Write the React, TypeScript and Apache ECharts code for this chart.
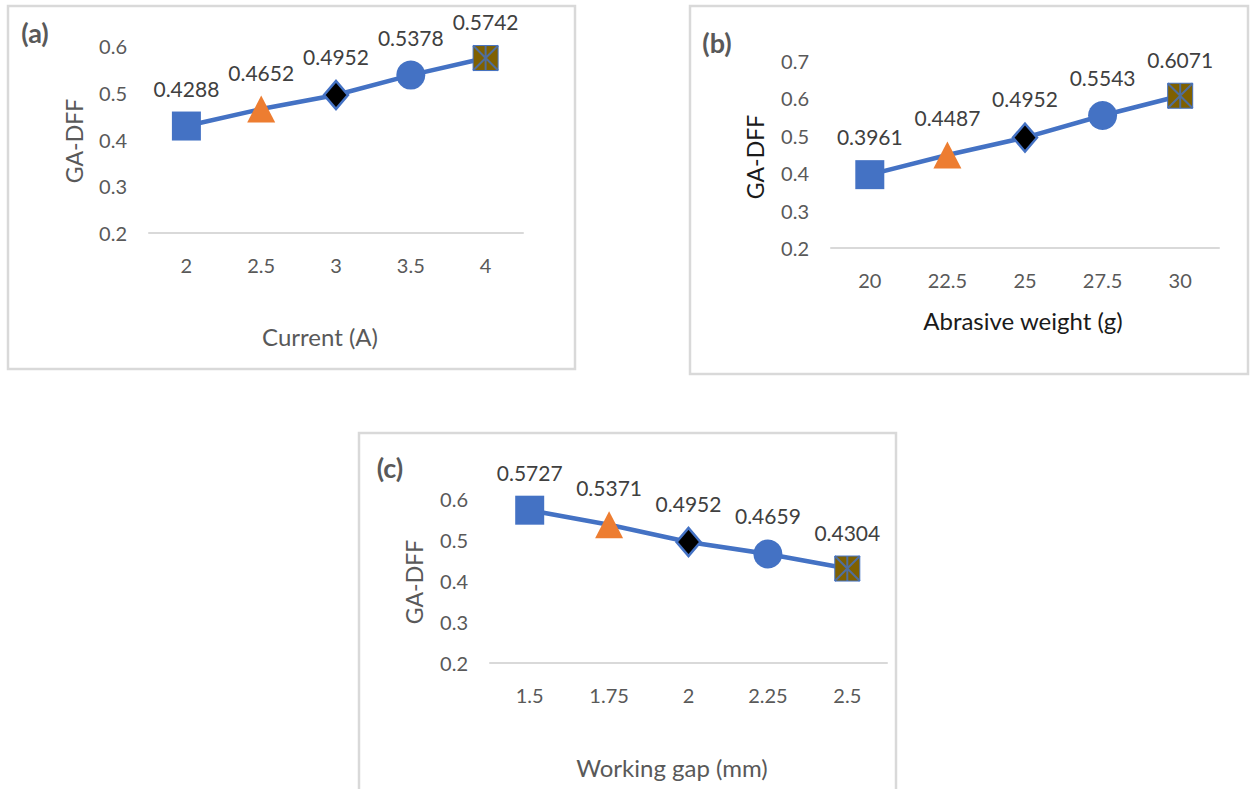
import React, { useEffect, useRef } from "react";
import * as echarts from "echarts";

// ---- data ----
const currentCategories = ["2", "2.5", "3", "3.5", "4"];
const currentGaDff = [0.4288, 0.4652, 0.4952, 0.5378, 0.5742];

const abrasiveCategories = ["20", "22.5", "25", "27.5", "30"];
const abrasiveGaDff = [0.3961, 0.4487, 0.4952, 0.5543, 0.6071];

const gapCategories = ["1.5", "1.75", "2", "2.25", "2.5"];
const gapGaDff = [0.5727, 0.5371, 0.4952, 0.4659, 0.4304];

const yRangeA = [0.2, 0.6];
const yRangeB = [0.2, 0.7];
const yRangeC = [0.2, 0.6];

const panelLetters = ["(a)", "(b)", "(c)"];
const xTitles = ["Current (A)", "Abrasive weight (g)", "Working gap (mm)"];
const yTitle = "GA-DFF";

// ---- styles ----
const FONT = 'Lato, "Noto Sans", "Liberation Sans", sans-serif';
const BLUE = "#4472C4";
const GRAY_TXT = "#595959";
const LABEL_TXT = "#404040";
const BORDER = "#d9d9d9";

const markerStyles: any[] = [
  { symbol: "rect", symbolSize: 29, itemStyle: { color: BLUE } },
  { symbol: "triangle", symbolSize: [28, 27], itemStyle: { color: "#ED7D31" } },
  {
    symbol: "diamond",
    symbolSize: [24, 28],
    itemStyle: { color: "#000000", borderColor: BLUE, borderWidth: 2.5 },
  },
  { symbol: "circle", symbolSize: 29, itemStyle: { color: BLUE } },
  {
    symbol: "rect",
    symbolSize: 25,
    itemStyle: { color: "#7F6000", borderColor: BLUE, borderWidth: 1 },
  },
];

const ASTERISK = "path://M0 0L10 10M10 0L0 10M5 0L5 10";

type PanelLayout = {
  box: [number, number, number, number];
  grid: { left: number; top: number; width: number; height: number };
  letter: [number, number];
  yTitle: [number, number];
  xTitle: [number, number];
  titleColor: string;
};

const layouts: PanelLayout[] = [
  {
    box: [8, 6, 575, 369],
    grid: { left: 149, top: 46, width: 374, height: 187 },
    letter: [35, 32],
    yTitle: [74, 141],
    xTitle: [320, 336],
    titleColor: GRAY_TXT,
  },
  {
    box: [690, 6, 1248, 374],
    grid: { left: 831, top: 61, width: 388, height: 187 },
    letter: [717, 42],
    yTitle: [755, 157],
    xTitle: [1023, 320],
    titleColor: "#1a1a1a",
  },
  {
    box: [359, 433, 896, 800],
    grid: { left: 490, top: 499, width: 397, height: 164 },
    letter: [390, 467],
    yTitle: [414, 582],
    xTitle: [672, 767],
    titleColor: GRAY_TXT,
  },
];

const panelsData = [
  { cats: currentCategories, vals: currentGaDff, range: yRangeA },
  { cats: abrasiveCategories, vals: abrasiveGaDff, range: yRangeB },
  { cats: gapCategories, vals: gapGaDff, range: yRangeC },
];

function buildOption() {
  const grid: any[] = [];
  const xAxis: any[] = [];
  const yAxis: any[] = [];
  const series: any[] = [];
  const graphic: any[] = [];

  panelsData.forEach((p, i) => {
    const L = layouts[i];
    grid.push({ ...L.grid, containLabel: false });
    xAxis.push({
      type: "category",
      gridIndex: i,
      data: p.cats,
      boundaryGap: true,
      axisLine: { show: true, lineStyle: { color: BORDER, width: 2 } },
      axisTick: { show: false },
      axisLabel: {
        color: GRAY_TXT,
        fontSize: 20,
        fontFamily: FONT,
        margin: 22,
      },
      splitLine: { show: false },
    });
    yAxis.push({
      type: "value",
      gridIndex: i,
      min: p.range[0],
      max: p.range[1],
      interval: 0.1,
      axisLine: { show: false },
      axisTick: { show: false },
      splitLine: { show: false },
      axisLabel: {
        color: GRAY_TXT,
        fontSize: 20,
        fontFamily: FONT,
        margin: 22,
        formatter: (v: number) => v.toFixed(1),
      },
    });
    series.push({
      type: "line",
      xAxisIndex: i,
      yAxisIndex: i,
      color: BLUE,
      lineStyle: { color: BLUE, width: 4.5 },
      z: 2,
      data: p.vals.map((v, k) => ({ value: v, ...markerStyles[k] })),
      label: {
        show: true,
        position: "top",
        distance: 13,
        color: LABEL_TXT,
        fontSize: 21,
        fontFamily: FONT,
        formatter: (q: any) => Number(q.value).toFixed(4),
      },
    });
    const last = p.vals.length - 1;
    series.push({
      type: "scatter",
      xAxisIndex: i,
      yAxisIndex: i,
      z: 4,
      symbol: ASTERISK,
      symbolSize: 25,
      itemStyle: { color: "rgba(0,0,0,0)", borderColor: BLUE, borderWidth: 2 },
      data: [[last, p.vals[last]]],
    });

    const [x1, y1, x2, y2] = L.box;
    graphic.push({
      type: "rect",
      shape: { x: x1, y: y1, width: x2 - x1, height: y2 - y1 },
      style: { fill: "#ffffff", stroke: BORDER, lineWidth: 2.5 },
      z: -10,
      silent: true,
    });
    graphic.push({
      type: "text",
      x: L.letter[0],
      y: L.letter[1],
      style: {
        text: panelLetters[i],
        fontSize: 27,
        fontWeight: "bold",
        fontFamily: FONT,
        fill: GRAY_TXT,
        align: "center",
        verticalAlign: "middle",
      },
    });
    graphic.push({
      type: "text",
      x: L.yTitle[0],
      y: L.yTitle[1],
      rotation: Math.PI / 2,
      style: {
        text: yTitle,
        fontSize: 23,
        fontFamily: FONT,
        fill: L.titleColor,
        align: "center",
        verticalAlign: "middle",
      },
    });
    graphic.push({
      type: "text",
      x: L.xTitle[0],
      y: L.xTitle[1],
      style: {
        text: xTitles[i],
        fontSize: 24,
        fontFamily: FONT,
        fill: L.titleColor,
        align: "center",
        verticalAlign: "middle",
      },
    });
  });

  return {
    animation: false,
    backgroundColor: "#ffffff",
    grid,
    xAxis,
    yAxis,
    series,
    graphic: { elements: graphic },
  };
}

export default function App() {
  const ref = useRef<HTMLDivElement>(null);
  useEffect(() => {
    if (!ref.current) return;
    const chart = echarts.init(ref.current, undefined, { renderer: "svg" });
    chart.setOption(buildOption() as any);
    return () => chart.dispose();
  }, []);
  return (
    <div
      ref={ref}
      style={{
        position: "absolute",
        left: 0,
        top: 0,
        width: 1250,
        height: 789,
        background: "#ffffff",
      }}
    />
  );
}
